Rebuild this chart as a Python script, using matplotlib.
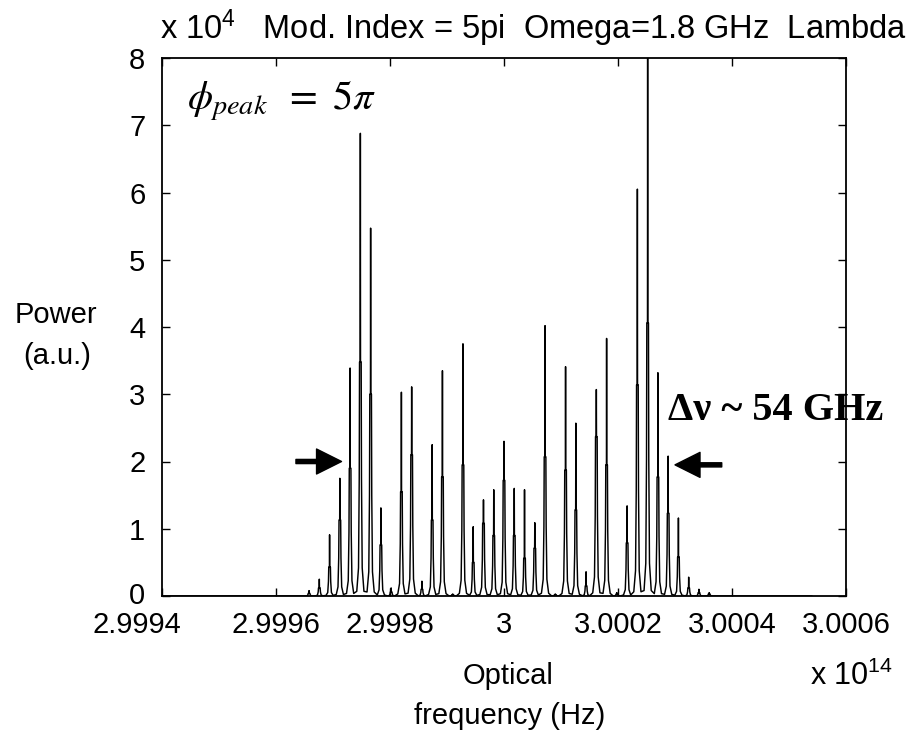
import numpy as np
import matplotlib
matplotlib.use('Agg')
import matplotlib.pyplot as plt
from matplotlib.transforms import ScaledTranslation

plt.rcParams['font.family'] = ['Liberation Sans', 'DejaVu Sans']
plt.rcParams['mathtext.fontset'] = 'custom'
plt.rcParams['mathtext.rm'] = 'Liberation Sans'
plt.rcParams['mathtext.it'] = 'Liberation Sans:italic'

# sideband order, spike height, shoulder height (power, x 10^4)
orders = [-19, -18, -17, -16, -15, -14, -13, -12, -11, -10, -9, -8, -7, -6, -5,
          -4, -3, -2, -1, 0, 1, 2, 3, 4, 5, 6, 7, 8, 9, 10,
          11, 12, 13, 14, 15, 16, 17, 18, 19, 20]
spikes = [0.08, 0.25, 0.91, 1.75, 3.39, 6.88, 5.47, 1.31, 0.12, 3.03, 3.11, 0.22, 2.25, 3.35, 0.03,
          3.75, 1.03, 1.43, 1.58, 2.30, 1.60, 1.58, 1.09, 4.02, 0.03, 3.41, 2.57, 0.36, 3.07, 3.83,
          0.05, 1.34, 6.05, 8.50, 3.32, 2.08, 1.16, 0.28, 0.10, 0.05]
shoulders = [0.04, 0.12, 0.43, 1.13, 1.90, 3.48, 3.00, 0.76, 0.06, 1.55, 2.10, 0.10, 1.13, 1.77, 0.02,
             1.95, 0.50, 1.08, 0.90, 1.72, 0.90, 0.56, 0.71, 2.07, 0.02, 1.87, 1.28, 0.15, 2.37, 1.95,
             0.03, 0.79, 3.14, 4.06, 1.77, 1.23, 0.58, 0.12, 0.05, 0.03]

f0 = 3.0             # carrier (x 10^14 Hz)
fm = 1.8e9 / 1e14    # modulation frequency, 1.8 GHz
x_start, x_end = 2.9994, 3.00054

xticks = [2.9994, 2.9996, 2.9998, 3.0, 3.0002, 3.0004, 3.0006]
xticklabels = ['2.9994', '2.9996', '2.9998', '3', '3.0002', '3.0004', '3.0006']
yticks = [0, 1, 2, 3, 4, 5, 6, 7, 8]

# outline of each line: foot, shoulder, narrow spike
off = np.array([-0.35, -0.18, -0.11, -0.08, -0.015, 0.0, 0.015, 0.08, 0.11, 0.18, 0.35])
lev = np.array([0.02, 0.12, 0.5, 1.0, 1.0, 0.0, 1.0, 1.0, 0.5, 0.12, 0.02])

xs = [x_start]
ys = [0.0]
for n, h, s in zip(orders, spikes, shoulders):
    c = f0 + n * fm
    yy = lev * s
    yy[5] = h
    xs.extend(c + off * fm)
    ys.extend(yy)
xs.append(x_end)
ys.append(0.0)

W, H = 908, 736
fig = plt.figure(figsize=(W / 100, H / 100), dpi=100)
ax = fig.add_axes([162 / W, 1 - 596 / H, 684 / W, 538 / H])

ax.plot(xs, ys, color='black', lw=1.05)

ax.set_xlim(2.9994, 3.0006)
ax.set_ylim(0, 8)
ax.set_xticks(xticks)
ax.set_xticklabels(xticklabels)
ax.set_yticks(yticks)
ax.tick_params(direction='in', top=True, right=True, length=6, width=1,
               labelsize=21)
ax.tick_params(axis='x', pad=11)
ax.tick_params(axis='y', pad=12)
for sp in ax.spines.values():
    sp.set_linewidth(1.3)

# first x label sits a little left of its tick in the original
first = ax.xaxis.get_major_ticks()[0].label1
first.set_transform(first.get_transform() + ScaledTranslation(-0.25, 0, fig.dpi_scale_trans))
# lift the "0" a touch so it clears the x label below it
zero = ax.yaxis.get_major_ticks()[0].label1
zero.set_transform(zero.get_transform() + ScaledTranslation(0, 0.03, fig.dpi_scale_trans))


def fx(px):
    return px / W


def fy(py):
    return 1 - py / H


fig.text(fx(160), fy(28), r'x 10$^{4}$   Mod. Index = 5pi  Omega=1.8 GHz  Lambda',
         fontsize=23.5, va='center', ha='left')
fig.text(fx(56), fy(315), 'Power', fontsize=21, ha='center', va='center')
fig.text(fx(57), fy(356), '(a.u.)', fontsize=21, ha='center', va='center')
fig.text(fx(508), fy(676), 'Optical', fontsize=21, ha='center', va='center')
fig.text(fx(510), fy(716), 'frequency (Hz)', fontsize=21, ha='center', va='center')
fig.text(fx(810), fy(676), r'x 10$^{14}$', fontsize=22, ha='left', va='center')

ax.text(0.036, 0.905, r'$\phi_{peak}\;\;=\ 5\pi$', transform=ax.transAxes,
        fontsize=29, math_fontfamily='stix', va='baseline', ha='left')
fig.text(fx(668), fy(410), 'Δν ~ 54 GHz', family='Liberation Serif',
         weight='bold', fontsize=29, ha='left', va='center')

arrow = dict(width=3, headwidth=18, headlength=18, facecolor='black',
             edgecolor='black', shrink=0)
ax.annotate('', xy=(2.999715, 2.0), xytext=(2.999635, 2.0), arrowprops=arrow)
ax.annotate('', xy=(3.0003, 1.95), xytext=(3.000382, 1.95), arrowprops=arrow)

fig.savefig('out.png', dpi=100)
